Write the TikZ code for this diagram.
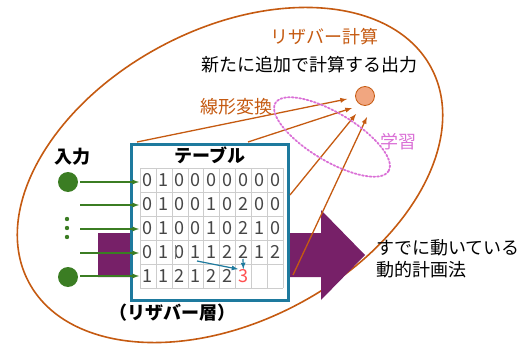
\documentclass[tikz,border=0pt]{standalone}
\usepackage{fontspec}
\setmainfont{Noto Sans CJK JP}
\definecolor{rust}{RGB}{197,90,17}
\definecolor{leaf}{RGB}{59,125,35}
\definecolor{boxblue}{RGB}{30,122,158}
\definecolor{plum}{RGB}{119,32,104}
\definecolor{orchidp}{RGB}{218,112,214}
\definecolor{salmonf}{RGB}{241,166,128}
\definecolor{cellgray}{RGB}{205,205,205}
\definecolor{digit}{RGB}{70,70,70}
\definecolor{numred}{RGB}{255,80,80}
\tikzset{
  lbl/.style={font=\fontsize{18}{22}\selectfont, inner sep=0pt},
  num/.style={font=\fontsize{18}{22}\selectfont, text=digit, inner sep=0pt},
  inp/.style={circle, fill=leaf, minimum size=20pt, inner sep=0pt},
}
\begin{document}
\begin{tikzpicture}[>=latex, x=1pt, y=-1pt]
\useasboundingbox (0,0) rectangle (525,345);

\draw [rust, line width=1.6pt, rotate around={28:(230,175)}] (230,175) ellipse (228 and 146);
\fill [plum] (98,233)--(321,233)--(321,210)--(365,255)--(321,300)--(321,277)--(98,277)--cycle;

\node (tbl) [draw=boxblue, line width=2.8pt, fill=white, minimum width=157pt, minimum height=156pt] at (210,222.5) {};
\node [lbl, font=\fontsize{18}{22}\selectfont\bfseries] (tbltitle) at (210,155) {テーブル};
\foreach \i in {0,...,9} \draw [cellgray] (140+15.9*\i,168)--(140+15.9*\i,288);
\foreach \j in {0,...,5} \draw [cellgray] (140,168+24*\j)--(283.1,168+24*\j);
\foreach \row [count=\r] in {{0,1,0,0,0,0,0,0,0},{0,1,0,0,1,0,2,0,0},{0,1,0,0,1,0,2,1,0},{0,1,0,1,1,2,2,1,2},{1,1,2,1,2,2}}
  \foreach \d [count=\c] in \row
    \node [num] at (132.05+15.9*\c, 156+24*\r) {\d};
\node [num, text=numred] (three) at (243.35,276) {3};
\draw [gray, line width=0.6pt] (175,245)--(175,259);
\coordinate (bs) at (197,261);
\coordinate (vs) at (243,259);
\draw [->, boxblue, line width=1.2pt] (bs)--(three.north west);
\draw [->, boxblue, line width=1.2pt] (vs)--(three.north);

\node [inp] (in1) at (68,182) {};
\node [inp] (in2) at (68,277) {};
\foreach \y in {219,228,237} \fill [leaf] (67,\y) circle (2.2);
\foreach \y [count=\i] in {182,205,229,253,276}{
  \coordinate (gs\i) at (80,\y);
  \coordinate (ge\i) at (139,\y);
  \draw [->, leaf, line width=1.3pt] (gs\i)--(ge\i);
}
\node [lbl, font=\fontsize{18}{22}\selectfont\bfseries] (inlbl) at (72,157) {入力};

\node [circle, draw=rust, fill=salmonf, line width=0.8pt, minimum size=19pt, inner sep=0pt] (out) at (365,96) {};
\coordinate (a1) at (137,142); \coordinate (b1) at (347,99);
\coordinate (a2) at (248,142); \coordinate (b2) at (352,108);
\coordinate (a3) at (290,195); \coordinate (b3) at (356,114);
\coordinate (a4) at (293,275); \coordinate (b4) at (367,117);
\foreach \k in {1,...,4} \draw [->, rust, line width=1.3pt] (a\k)--(b\k);
\draw [orchidp, line width=1.8pt, dotted, line cap=round, rotate around={-31:(332,137)}] (332,137) ellipse (66 and 24);

\node [lbl, text=rust] (title) at (324,37) {リザバー計算};
\node [lbl] (newout) at (309,65) {新たに追加で計算する出力};
\node [lbl, text=rust] (lin) at (236,107) {線形変換};
\node [lbl, text=orchidp] (learn) at (398,142) {学習};
\node [lbl, font=\fontsize{18}{22}\selectfont\bfseries] (layer) at (172,313) {（リザバー層）};
\node [lbl, anchor=west, align=left] (dp) at (376,259) {すでに動いている\\動的計画法};

\end{tikzpicture}
\end{document}
